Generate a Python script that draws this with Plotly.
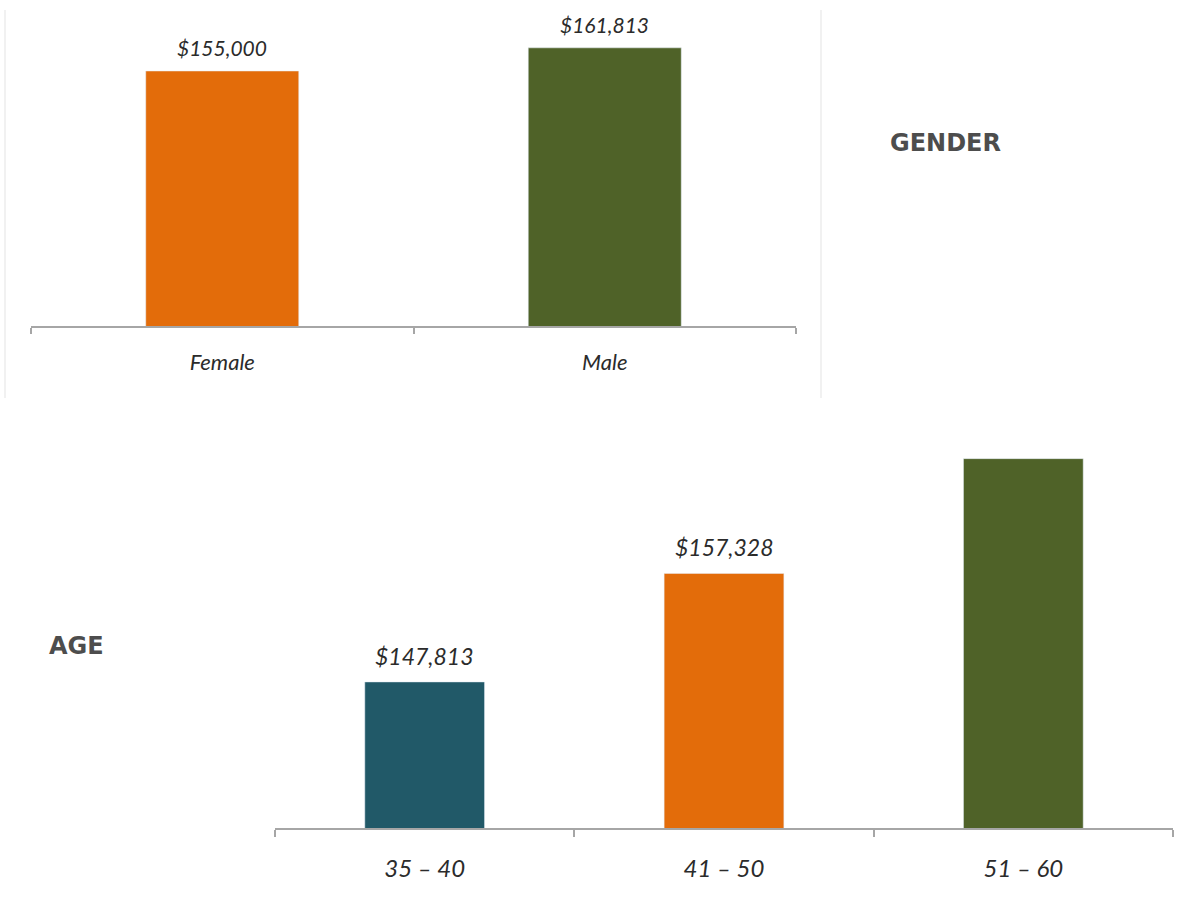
import plotly.graph_objects as go

# Average salary by gender
gender_labels = ["Female", "Male"]
gender_values = [155000, 161813]
gender_colors = ["#E36C0A", "#4F6228"]

# Average salary by age band
age_labels = ["35 – 40", "41 – 50", "51 – 60"]
age_values = [147813, 157328, 167400]
age_colors = ["#215968", "#E36C0A", "#4F6228"]
age_shown = [True, True, False]  # which age bars carry a value label

W, H = 1192, 907
TEXT = "#2b2b2b"
AXIS = "#a6a6a6"
FONT = "Lato"
HEAD_FONT = "DejaVu Sans"


def money(v):
    return f"${v:,.0f}"


fig = go.Figure()

fig.add_trace(go.Bar(
    x=gender_labels, y=gender_values, marker_color=gender_colors,
    width=0.4, xaxis="x", yaxis="y", showlegend=False, hoverinfo="skip",
))
fig.add_trace(go.Bar(
    x=age_labels, y=age_values, marker_color=age_colors,
    width=0.4, xaxis="x2", yaxis="y2", showlegend=False, hoverinfo="skip",
))

annotations = []
for lab, v in zip(gender_labels, gender_values):
    annotations.append(dict(
        x=lab, y=v, xref="x", yref="y", text=money(v), showarrow=False,
        yanchor="bottom", yshift=9,
        font=dict(family=FONT, size=21, color=TEXT, style="italic"),
    ))
for lab, v, show in zip(age_labels, age_values, age_shown):
    if show:
        annotations.append(dict(
            x=lab, y=v, xref="x2", yref="y2", text=money(v), showarrow=False,
            yanchor="bottom", yshift=10,
            font=dict(family=FONT, size=23, color=TEXT, style="italic"),
        ))

annotations.append(dict(
    x=888 / W, y=1 - 143 / H, xref="paper", yref="paper", text="<b>GENDER</b>",
    showarrow=False, xanchor="left", yanchor="middle",
    font=dict(family=HEAD_FONT, size=24, color="#4d4d4d"),
))
annotations.append(dict(
    x=47 / W, y=1 - 646 / H, xref="paper", yref="paper", text="<b>AGE</b>",
    showarrow=False, xanchor="left", yanchor="middle",
    font=dict(family=HEAD_FONT, size=24, color="#4d4d4d"),
))

# light frame lines around the gender panel
shapes = [
    dict(type="line", xref="paper", yref="paper", x0=5 / W, x1=5 / W,
         y0=1 - 10 / H, y1=1 - 398 / H, line=dict(color="#e3e3e3", width=1)),
    dict(type="line", xref="paper", yref="paper", x0=821 / W, x1=821 / W,
         y0=1 - 10 / H, y1=1 - 398 / H, line=dict(color="#e3e3e3", width=1)),
]

xcommon = dict(
    type="category", showgrid=False, zeroline=False, showline=True,
    linecolor=AXIS, linewidth=2, ticks="outside", tickson="boundaries",
    tickcolor=AXIS, tickwidth=2, fixedrange=True,
)
ycommon = dict(visible=False, showgrid=False, zeroline=False, fixedrange=True)

fig.update_layout(
    width=W, height=H,
    margin=dict(l=0, r=0, t=0, b=0),
    paper_bgcolor="white", plot_bgcolor="white",
    xaxis=dict(**xcommon, domain=[31 / W, 796 / W], anchor="y",
               range=[-0.5, 1.5], ticklen=6, ticklabelstandoff=16,
               tickfont=dict(family=FONT, size=22, color=TEXT, style="italic")),
    yaxis=dict(**ycommon, domain=[1 - 326 / H, 1 - 20 / H], anchor="x",
               range=[80000, 170000]),
    xaxis2=dict(**xcommon, domain=[275 / W, 1173 / W], anchor="y2",
                range=[-0.5, 2.5], ticklen=7, ticklabelstandoff=18,
                tickfont=dict(family=FONT, size=24, color=TEXT, style="italic")),
    yaxis2=dict(**ycommon, domain=[1 - 828 / H, 1 - 429 / H], anchor="x2",
                range=[135000, 170000]),
    annotations=annotations,
    shapes=shapes,
)

fig.write_html("out.html")
